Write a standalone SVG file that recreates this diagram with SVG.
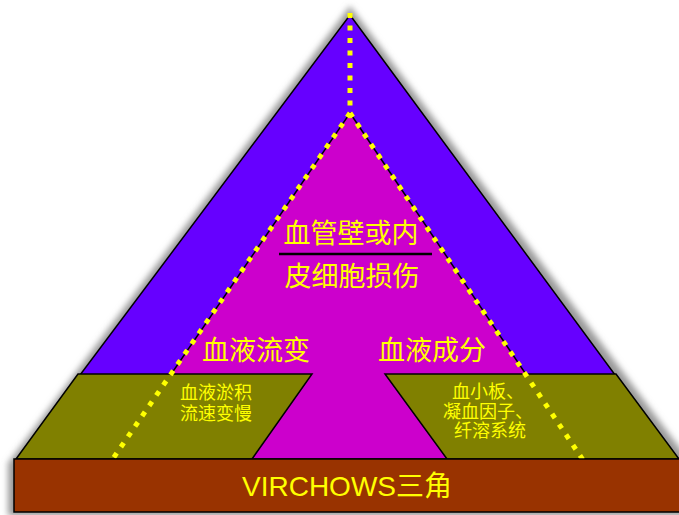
<svg xmlns="http://www.w3.org/2000/svg" width="679" height="515" viewBox="0 0 679 515">
<defs>
<filter id="sh" x="-10%" y="-10%" width="120%" height="120%">
<feGaussianBlur stdDeviation="3"/>
</filter>
<style>
.edge{stroke:#000;stroke-width:1.5;stroke-linejoin:miter}
.dots{fill:none;stroke:#FFFF00;stroke-width:5;stroke-dasharray:5 7.5}
.cjk{font-family:"Noto Sans CJK SC","Liberation Sans",sans-serif;fill:#FFFF00;text-anchor:middle}
.big{font-size:27px}
.small{font-size:18px}
</style>
</defs>
<rect width="679" height="515" fill="#fff"/>
<g id="shadow" filter="url(#sh)" fill="#9a9a9a">
<polygon points="350,6 690,462 690,516 8,516 8,462 9,462"/>
</g>
<g id="outer-triangle">
<polygon class="edge" points="350,15 677,459 17,459" fill="#6600FF"/>
</g>
<g id="inner-triangle">
<polygon class="edge" points="350,113 583,459 113,459" fill="#CC00CC"/>
</g>
<g id="left-block">
<polygon class="edge" points="78,374 312,374 252,459 16,459" fill="#808000"/>
</g>
<g id="right-block">
<polygon class="edge" points="385,374 616,374 679,459 447,459" fill="#808000"/>
</g>
<g id="connectors">
<line class="dots" x1="350" y1="13" x2="350" y2="113"/>
<line class="dots" x1="350" y1="113" x2="112" y2="460"/>
<line class="dots" x1="350" y1="113" x2="583" y2="460"/>
</g>
<g id="base">
<rect class="edge" x="14" y="459" width="670" height="53" fill="#993300"/>
<text x="347" y="496" font-family="'Liberation Sans','Noto Sans CJK SC',sans-serif" font-size="28" fill="#FFFF00" text-anchor="middle">VIRCHOWS三角</text>
</g>
<g id="center-label">
<text class="cjk big" x="351" y="243">血管壁或内</text>
<line x1="279" y1="254" x2="432" y2="254" stroke="#000" stroke-width="2.5"/>
<text class="cjk big" x="352" y="286">皮细胞损伤</text>
</g>
<g id="label-flow">
<text class="cjk big" x="256" y="360">血液流变</text>
</g>
<g id="label-composition">
<text class="cjk big" x="432" y="360">血液成分</text>
</g>
<g id="label-stasis">
<text class="cjk small" x="216" y="399">血液淤积</text>
<text class="cjk small" x="216" y="420">流速变慢</text>
</g>
<g id="label-coag">
<text class="cjk small" x="488" y="398">血小板、</text>
<text class="cjk small" x="488" y="417.5">凝血因子、</text>
<text class="cjk small" x="490" y="437">纤溶系统</text>
</g>
</svg>
